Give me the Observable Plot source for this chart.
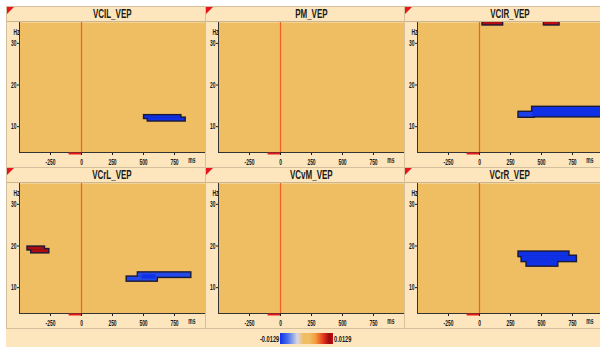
<!DOCTYPE html>
<html><head><meta charset="utf-8">
<script src="https://cdn.jsdelivr.net/npm/d3@7"></script>
<script src="https://cdn.jsdelivr.net/npm/@observablehq/plot@0.6"></script>
<style>
html,body{margin:0;padding:0;background:#fff;width:600px;height:347px;overflow:hidden;font-family:"Liberation Sans",Arial,sans-serif}
#wrap{position:absolute;left:6px;top:6px;width:594px;height:341px;background:#fde6bd;overflow:hidden}
.panel{position:absolute;width:200px;height:162px;box-sizing:border-box;border:1px solid #d4c09c;background:#fde6bd;overflow:hidden}
.title{height:14px;border-bottom:1px solid #c9b592;text-align:center;font-size:12.5px;font-weight:bold;line-height:15px;color:#1a1a1a;padding-left:12px;box-sizing:content-box;white-space:nowrap}
.title span{display:inline-block;transform:scaleX(0.64);transform-origin:center}
.tri{position:absolute;left:0;top:0;width:0;height:0;border-top:7px solid #e8141e;border-right:7px solid transparent}
.cb{position:absolute;top:333px;height:11px}
.cbl{position:absolute;top:332px;font-size:9.5px;line-height:13px;color:#1a1a1a;font-weight:bold}
.cbl span{display:inline-block;transform:scaleX(0.6)}
</style></head>
<body>
<div id="wrap"></div>
<script>
// ---- data ----
const panelNames = ["VCIL_VEP", "PM_VEP", "VCIR_VEP", "VCrL_VEP", "VCvM_VEP", "VCrR_VEP"];
const timeDomain = [-500, 1000];          // ms
const freqDomain = [3.8, 35];             // Hz
const timeTicks = [-250, 0, 250, 500, 750];
const freqTicks = [10, 20, 30];
const baselineStart = -100, baselineEnd = 0;
const colorDomain = [-0.0129, -0.009, -0.0045, -0.0015, 0.0015, 0.0045, 0.0085, 0.0110, 0.0129];
const colorRange  = ["#1030e6", "#4a72ec", "#d8d6e2", "#efbd62", "#efbd62", "#f49a3a", "#e2301c", "#9a0c10", "#c00c10"];
const colorLimits = ["-0.0129", "0.0129"];

// significant time-frequency cells: [t1 ms, t2 ms, f1 Hz, f2 Hz, value]
const cellsVCIL = [
  [510, 800, 12.0, 12.6, -0.0129],
  [540, 835, 11.4, 12.0, -0.0129]
];
const cellsPM = [];
const cellsVCIR = [
  [30, 185, 34.45, 36, 0.0120],
  [525, 640, 34.45, 36, 0.0129],
  [320, 440, 12.3, 13.4, -0.0120],
  [430, 1000, 12.4, 14.6, -0.0129]
];
const cellsVCrL = [
  [-430, -300, 19.1, 19.7, 0.0118],
  [-400, -265, 18.4, 19.1, 0.0118],
  [370, 610, 11.6, 12.5, -0.0115],
  [460, 880, 12.5, 13.5, -0.0115],
  [490, 600, 12.1, 13.1, -0.0129]
];
const cellsVCvM = [];
const cellsVCrR = [
  [320, 720, 17.5, 18.5, -0.0129],
  [345, 780, 16.3, 17.5, -0.0129],
  [385, 630, 15.2, 16.3, -0.0129]
];
const panelCells = [cellsVCIL, cellsPM, cellsVCIR, cellsVCrL, cellsVCvM, cellsVCrR];

const FONT = '"Liberation Sans",Arial,sans-serif';
const SQUEEZE = 0.58;
const wrap = document.getElementById("wrap");

function squeezeTexts(svg) {
  svg.querySelectorAll("text").forEach(el => {
    const L = el.getComputedTextLength();
    if (L > 0) {
      el.setAttribute("textLength", (L * SQUEEZE).toFixed(2));
      el.setAttribute("lengthAdjust", "spacingAndGlyphs");
    }
  });
}

panelNames.forEach((name, i) => {
  const col = i % 3, row = Math.floor(i / 3);
  const div = document.createElement("div");
  div.className = "panel";
  div.style.left = (col * 199) + "px";
  div.style.top = (row * 161) + "px";
  const t = document.createElement("div");
  t.className = "title";
  const ts = document.createElement("span");
  ts.textContent = name;
  t.appendChild(ts);
  div.appendChild(t);
  const tri = document.createElement("div");
  tri.className = "tri";

  const cells = panelCells[i].map(([t1, t2, f1, f2, v]) => ({t1, t2, f1, f2, v}));

  const chart = Plot.plot({
    width: 198,
    height: 145,
    marginTop: 0,
    marginLeft: 12,
    marginRight: 0,
    marginBottom: 15,
    style: {fontSize: "8.5px", fontFamily: FONT, fontWeight: "bold", color: "#1a1a1a", background: "transparent", overflow: "visible"},
    x: {domain: timeDomain, ticks: timeTicks, tickSize: 3, tickPadding: 3, label: null, tickFormat: d => String(d)},
    y: {domain: freqDomain, ticks: freqTicks, tickSize: 2, tickPadding: 1, label: null},
    color: {type: "linear", domain: colorDomain, range: colorRange, clamp: true},
    marks: [
      Plot.frame({fill: "#efbd62", stroke: null}),
      Plot.rect(cells, {x1: "t1", x2: "t2", y1: "f1", y2: "f2", fill: "#1a1a36", inset: -1.4, clip: true}),
      Plot.rect(cells, {x1: "t1", x2: "t2", y1: "f1", y2: "f2", fill: "v", clip: true}),
      Plot.ruleX([0], {stroke: "#f0601e", strokeWidth: 1.2}),
      Plot.ruleX([timeDomain[0]], {stroke: "#333"}),
      Plot.ruleY([freqDomain[0]], {stroke: "#333"}),
      Plot.ruleY([freqDomain[0]], {x1: baselineStart, x2: baselineEnd, stroke: "#e41a1a", strokeWidth: 2, dy: 1}),
      Plot.text(["ms"], {frameAnchor: "bottom-right", dx: -10, dy: 10, fontSize: 8.5}),
      Plot.text(["Hz"], {frameAnchor: "top-left", dx: -6, dy: 6, fontSize: 8.5})
    ]
  });
  chart.style.display = "block";
  div.appendChild(chart);
  div.appendChild(tri);
  wrap.appendChild(div);
  squeezeTexts(chart);
});

// color bar
const bar = document.createElement("div");
bar.className = "cb";
bar.style.left = "280px";
bar.style.width = "53px";
const lo = colorDomain[0], hi = colorDomain[colorDomain.length - 1];
const stops = colorDomain.map((d, k) => `${colorRange[k]} ${((d - lo) / (hi - lo) * 100).toFixed(1)}%`);
bar.style.background = `linear-gradient(to right, ${stops.join(",")})`;
document.body.appendChild(bar);
const l1 = document.createElement("div");
l1.className = "cbl";
l1.innerHTML = `<span style="transform-origin:right center">${colorLimits[0]}</span>`;
l1.style.right = (600 - 279) + "px";
document.body.appendChild(l1);
const l2 = document.createElement("div");
l2.className = "cbl";
l2.innerHTML = `<span style="transform-origin:left center">${colorLimits[1]}</span>`;
l2.style.left = "334px";
document.body.appendChild(l2);
</script>
</body></html>
